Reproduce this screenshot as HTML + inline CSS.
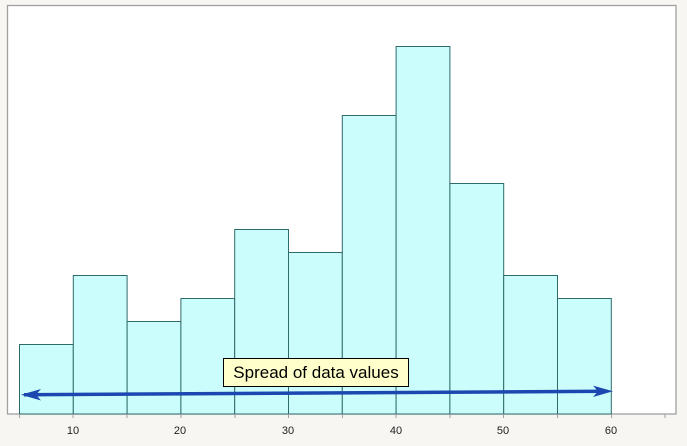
<!DOCTYPE html>
<html><head><style>body{margin:0;background:#f7f6f3}</style></head><body>
<svg width="687" height="446" xmlns="http://www.w3.org/2000/svg" style="display:block">
<rect x="0" y="0" width="687" height="446" fill="#f7f6f3"/>
<rect x="7.5" y="5.5" width="668.5" height="408.5" fill="#fff" stroke="#a0a0a0" stroke-width="1.3"/>
<g fill="#ccfdfd" stroke="#2e6b6b" stroke-width="1">
<rect x="19.5" y="344.5" width="53.8" height="69.5"/>
<rect x="73.3" y="275.5" width="53.8" height="138.5"/>
<rect x="127.1" y="321.5" width="53.8" height="92.5"/>
<rect x="180.9" y="298.5" width="53.8" height="115.5"/>
<rect x="234.7" y="229.5" width="53.8" height="184.5"/>
<rect x="288.5" y="252.5" width="53.8" height="161.5"/>
<rect x="342.3" y="115.5" width="53.8" height="298.5"/>
<rect x="396.1" y="46.5" width="53.8" height="367.5"/>
<rect x="449.9" y="183.5" width="53.8" height="230.5"/>
<rect x="503.7" y="275.5" width="53.8" height="138.5"/>
<rect x="557.5" y="298.5" width="53.8" height="115.5"/>
</g>
<g stroke="#a0a0a0" stroke-width="1">
<line x1="19.5" y1="414" x2="19.5" y2="418"/><line x1="73" y1="414" x2="73" y2="418"/>
<line x1="127" y1="414" x2="127" y2="418"/><line x1="181" y1="414" x2="181" y2="418"/>
<line x1="235" y1="414" x2="235" y2="418"/><line x1="288.5" y1="414" x2="288.5" y2="418"/>
<line x1="342.5" y1="414" x2="342.5" y2="418"/><line x1="396" y1="414" x2="396" y2="418"/>
<line x1="450" y1="414" x2="450" y2="418"/><line x1="503.5" y1="414" x2="503.5" y2="418"/>
<line x1="557.5" y1="414" x2="557.5" y2="418"/><line x1="611.5" y1="414" x2="611.5" y2="418"/>
<line x1="665" y1="414" x2="665" y2="418"/>
</g>
<g font-family="Liberation Sans, sans-serif" font-size="11" fill="#222" text-anchor="middle">
<text x="73" y="434">10</text><text x="180" y="434">20</text><text x="288" y="434">30</text>
<text x="396" y="434">40</text><text x="503" y="434">50</text><text x="611" y="434">60</text>
</g>
<line x1="24" y1="394.7" x2="606" y2="391.3" stroke="#1c47b0" stroke-width="3.5"/>
<polygon points="21,394.7 41,389 36,394.6 41,400.5" fill="#1c47b0"/>
<polygon points="613,391.3 593,385.6 598,391.3 593,397" fill="#1c47b0"/>
<rect x="223.5" y="358.5" width="185" height="28" fill="#ffffcc" stroke="#000" stroke-width="1"/>
<text x="316" y="378" font-family="Liberation Sans, sans-serif" font-size="17" text-anchor="middle" fill="#000">Spread of data values</text>
</svg>
</body></html>
